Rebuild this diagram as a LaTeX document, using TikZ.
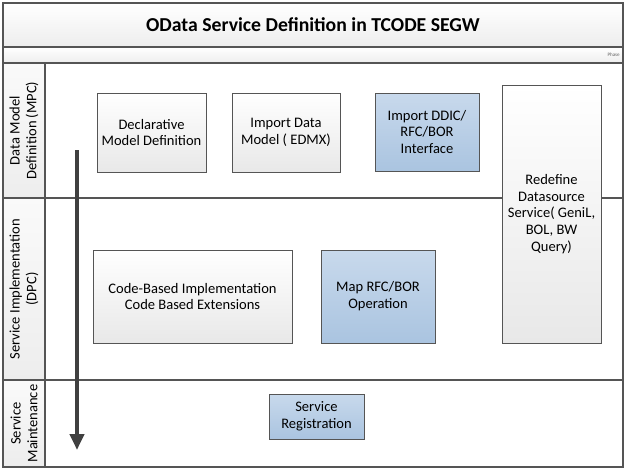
\documentclass[tikz,border=0pt]{standalone}
\usepackage{fontspec}
\setmainfont{Carlito}
\usetikzlibrary{arrows.meta}
\definecolor{edge}{HTML}{555555}
\definecolor{arrowc}{HTML}{404040}
\definecolor{bluetop}{RGB}{200,217,236}
\definecolor{bluebot}{RGB}{170,196,224}
\tikzset{
  band/.style={draw=edge, line width=0.9pt, top color=white, bottom color=black!7},
  gbox/.style={draw=edge, line width=0.7pt, top color=white, bottom color=black!9, align=center, inner sep=0pt, font=\fontsize{10.9}{12.6}\selectfont},
  bbox/.style={gbox, top color=bluetop, bottom color=bluebot},
  lanetext/.style={rotate=90, align=center, font=\fontsize{10.9}{12.6}\selectfont},
  lane/.style={draw=edge, line width=0.9pt}
}
\begin{document}
\begin{tikzpicture}[x=0.75pt,y=-0.75pt]
\useasboundingbox (0,0) rectangle (627,472);
% title and phase bands
\draw[band] (3,3) rectangle (623,47);
\node[font=\fontsize{14.8}{17}\selectfont\bfseries] (title) at (313,25) {OData Service Definition in TCODE SEGW};
\draw[band] (3,47) rectangle (623,63);
\node[font=\fontsize{3.8}{4}\selectfont, text=black!60, anchor=east, inner sep=0pt] (phase) at (620,55) {Phase};
% lane headers
\draw[band, top color=black!2, bottom color=black!7] (3,63) rectangle (45,198);
\draw[band, top color=black!2, bottom color=black!7] (3,198) rectangle (45,380);
\draw[band, top color=black!2, bottom color=black!7] (3,380) rectangle (45,467);
\draw[lane, fill=white] (45,63) rectangle (623,198);
\draw[lane, fill=white] (45,198) rectangle (623,380);
\draw[lane, fill=white] (45,380) rectangle (623,467);
\node[lanetext] (l1) at (24,130.5) {Data Model\\Definition (MPC)};
\node[lanetext] (l2) at (24,289) {Service Implementation\\(DPC)};
\node[lanetext] (l3) at (24,423.5) {Service\\Maintenance};
% boxes
\node[gbox, minimum width=81.75pt, minimum height=59.25pt] (decl) at (151.5,132.5) {Declarative\\Model Definition};
\node[gbox, minimum width=81pt, minimum height=59.25pt] (edmx) at (286,132.5) {Import Data\\Model ( EDMX)};
\node[bbox, minimum width=78pt, minimum height=58.5pt] (ddic) at (427,132) {Import DDIC/\\RFC/BOR\\Interface};
\node[gbox, minimum width=74.25pt, minimum height=193.5pt] (redef) at (551.5,214) {Redefine\\Datasource\\Service( GeniL,\\BOL, BW\\Query)};
\node[gbox, minimum width=149.25pt, minimum height=69.75pt] (code) at (192.5,296.5) {Code-Based Implementation\\Code Based Extensions};
\node[bbox, minimum width=85.5pt, minimum height=69.75pt] (map) at (378,296.5) {Map RFC/BOR\\Operation};
\node[bbox, minimum width=71.25pt, minimum height=33.75pt] (reg) at (316.5,416.5) {Service\\Registration};
% arrow
\coordinate (as) at (77,150);
\coordinate (ae) at (77,450);
\draw[arrowc, line width=3pt, -{Triangle[width=10.5pt,length=12pt]}] (as) -- (ae);
\end{tikzpicture}
\end{document}
